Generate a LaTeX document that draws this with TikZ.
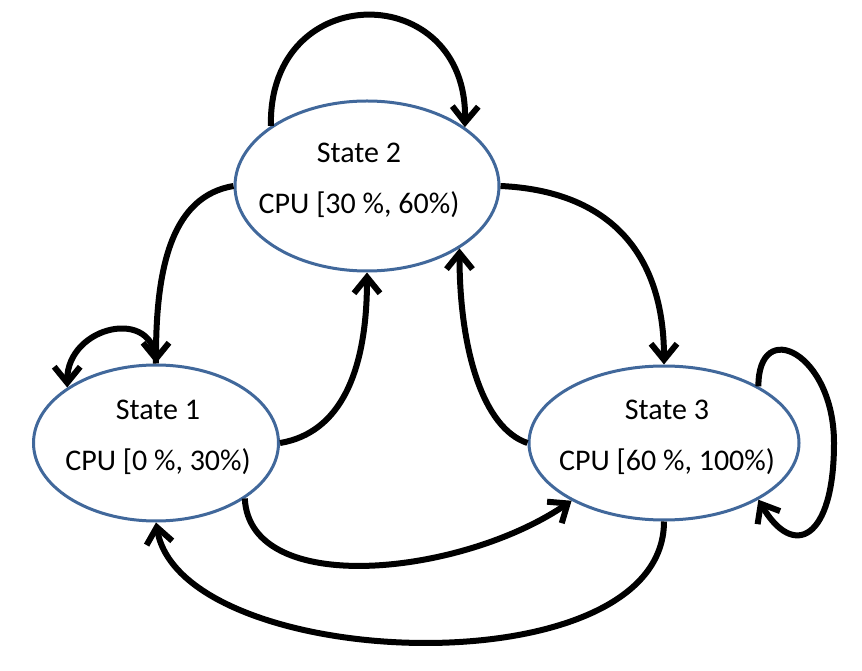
\documentclass[tikz,border=0pt]{standalone}
\usepackage{fontspec}
\setmainfont{Carlito}
\usetikzlibrary{arrows.meta,shapes.geometric}
\definecolor{stateblue}{RGB}{65,104,155}
\tikzset{
	statebox/.style={ellipse, draw=stateblue, line width=3pt, fill=white, inner sep=0pt},
	statetext/.style={font=\fontsize{30}{51}\selectfont, align=center, yshift=6pt},
	trans/.style={line width=6pt, -{Straight Barb[length=16pt,width=26pt]}}
}

\begin{document}
\begin{tikzpicture}[x=1pt,y=1pt]
				\useasboundingbox (0,0) rectangle (862,670);
				
				\node[statebox, minimum width=264pt, minimum height=170pt, label={[statetext, xshift=-8pt]center:State 2\\CPU [30 \%, 60\%)}] (state2) at (367,484) {};
				\node[statebox, minimum width=245pt, minimum height=156pt, label={[statetext, xshift=2pt]center:State 1\\CPU [0 \%, 30\%)}] (state1) at (156,227) {};
				\node[statebox, minimum width=270pt, minimum height=154pt, label={[statetext, xshift=3pt]center:State 3\\CPU [60 \%, 100\%)}] (state3) at (664,227) {};
				\coordinate (loopr) at (834,227);
				
				\draw[trans] (state2.148) .. controls +(-3,148) and +(3,148) .. (state2.31);
				\draw[trans] (state2.west) .. controls +(-60,-10) and +(0,100) .. (state1.north);
				\draw[trans] (state1.north) .. controls +(0,58) and +(0,62) .. (state1.148);
				\draw[trans] (state1.east) .. controls +(60,10) and +(0,-100) .. (state2.south);
				\draw[trans] (state2.east) .. controls +(110,-5) and +(0,110) .. (state3.north);
				\draw[trans] (state3.west) .. controls +(-45,15) and +(0,-100) .. (state2.326);
				\draw[trans] (state3.31) .. controls +(0,70) and +(0,90) .. (loopr) .. controls +(0,-97) and +(35,-60) .. (state3.329);
				\draw[trans] (state1.328) .. controls +(5,-100) and +(-110,-75) .. (state3.212);
				\draw[trans] (state3.south) .. controls +(0,-170) and +(25,-150) .. (state1.south);
\end{tikzpicture}
\end{document}
